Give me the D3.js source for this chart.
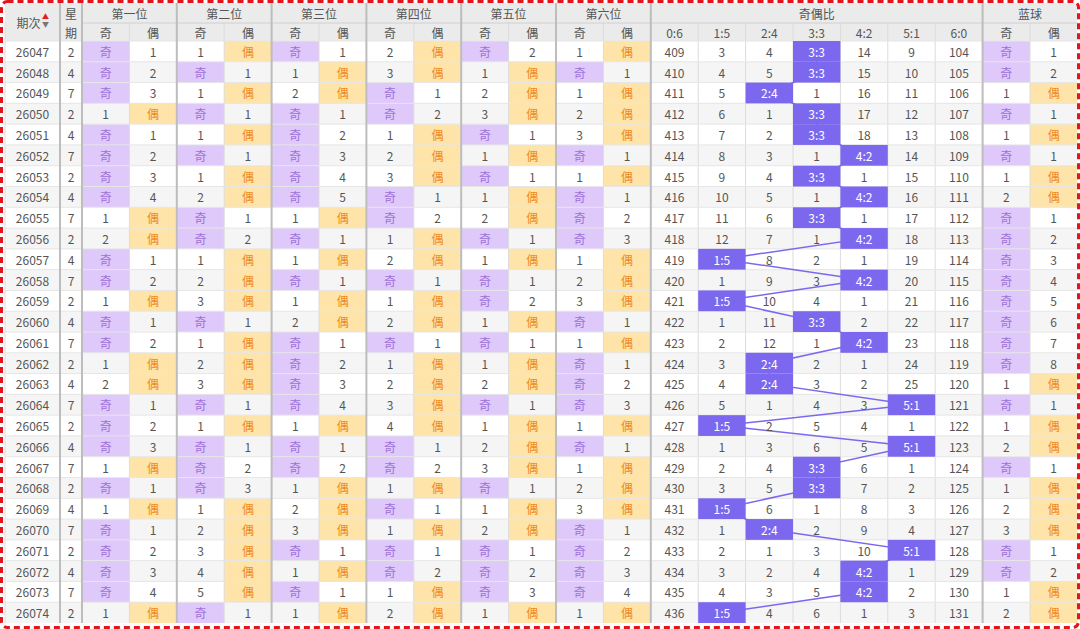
<!DOCTYPE html>
<html><head><meta charset="utf-8">
<script src="https://cdn.jsdelivr.net/npm/d3@7"></script>
<style>body{margin:0;background:#fff}svg{display:block;font-family:"Noto Sans CJK SC","DejaVu Sans",sans-serif}</style>
</head><body><svg id="chart" width="1080" height="629"></svg>
<script>
// data
var issues = d3.range(26047, 26075);
var weekdays = [2,4,7,2,4,7,2,4,7,2,4,7,2,4,7,2,4,7,2,4,7,2,4,7,2,4,7,2];
var posNames = ['第一位','第二位','第三位','第四位','第五位','第六位'];
// O = odd hit, E = even hit; nums = the miss count shown in the other cell
var posFlags = [
  "OOOEOOOOEEOOEOOEEOOOEOEOOOOE",
  "EOEOEOEEOOEEEOEEEOEOOOEEEEEO",
  "OEEOOOOOEOEOEEOOOOEOOEEEOEOE",
  "EEOOEEEOOEEOEEOEEEEOOEOEOOEE",
  "OEEEOEOEEOEOOEOEEOEEEOEEOOOE",
  "EOEEEOEOOOEEEOEOOOEOEEEOOOOE"
];
var posNums = [
  [1,2,3,1,1,2,3,4,1,2,1,2,1,1,2,1,2,1,2,3,1,1,1,1,2,3,4,1],
  [1,1,1,1,1,1,1,2,1,2,1,2,3,1,1,2,3,1,1,1,2,3,1,2,3,4,5,1],
  [1,1,2,1,2,3,4,5,1,1,1,1,1,2,1,2,3,4,1,1,2,1,2,3,1,1,1,1],
  [2,3,1,2,1,2,3,1,2,1,2,1,1,2,1,1,2,3,4,1,2,1,1,1,1,2,1,2],
  [2,1,2,3,1,1,1,1,2,1,1,1,2,1,1,1,2,1,1,2,3,1,1,2,1,2,3,1],
  [1,1,1,2,3,1,1,1,2,3,1,2,3,1,1,1,2,3,1,1,1,2,3,1,2,3,4,1]
];
var ratioLabels = ['0:6','1:5','2:4','3:3','4:2','5:1','6:0'];
var ratioHit = [3,3,2,3,3,4,3,4,3,4,1,4,1,3,4,2,2,5,1,5,3,3,1,2,5,4,4,1];
var ratioMiss = [
  [409,3,4,0,14,9,104],[410,4,5,0,15,10,105],[411,5,0,1,16,11,106],[412,6,1,0,17,12,107],
  [413,7,2,0,18,13,108],[414,8,3,1,0,14,109],[415,9,4,0,1,15,110],[416,10,5,1,0,16,111],
  [417,11,6,0,1,17,112],[418,12,7,1,0,18,113],[419,0,8,2,1,19,114],[420,1,9,3,0,20,115],
  [421,0,10,4,1,21,116],[422,1,11,0,2,22,117],[423,2,12,1,0,23,118],[424,3,0,2,1,24,119],
  [425,4,0,3,2,25,120],[426,5,1,4,3,0,121],[427,0,2,5,4,1,122],[428,1,3,6,5,0,123],
  [429,2,4,0,6,1,124],[430,3,5,0,7,2,125],[431,0,6,1,8,3,126],[432,1,0,2,9,4,127],
  [433,2,1,3,10,0,128],[434,3,2,4,0,1,129],[435,4,3,5,0,2,130],[436,0,4,6,1,3,131]
];
var blueFlags = "OOEOEOEEOOOOOOOOEOEEOEEEOOEE";
var blueNums = [1,2,1,1,1,1,1,2,1,2,3,4,5,6,7,8,1,1,1,2,1,1,2,3,1,2,1,2];

var svg = d3.select('#chart');
var purpleBg = '#dfc8fa', purpleTx = '#9d72d8', orangeBg = '#fee4a8', orangeTx = '#f08a24';
var blue = '#7b68ee', grid = '#dcdcdc', txt = '#555';

// columns: id, week, 12 position cols, 7 ratio cols, 2 blue cols
var colKeys = ['id','wk'];
posNames.forEach(function(p,i){ colKeys.push('p'+i+'o','p'+i+'e'); });
ratioLabels.forEach(function(r,i){ colKeys.push('r'+i); });
colKeys.push('bo','be');
var colW = {id:55, wk:22};
var x0 = 5, cw = 47.4;
var xs = {}, cx = x0;
colKeys.forEach(function(k){ var w = colW[k] || cw; xs[k] = {x:cx, w:w}; cx += w; });

var headTop = 3, head1 = 20, head2 = 18;
var y = d3.scaleBand().domain(issues).range([headTop+head1+head2, 623]);
var rh = y.bandwidth();

// row backgrounds
svg.selectAll('rect.row').data(issues).join('rect')
  .attr('x', x0).attr('y', function(d){ return y(d); })
  .attr('width', cx-x0).attr('height', rh)
  .attr('fill', function(d,i){ return i%2 ? '#f5f5f5' : '#fff'; });

// header bg
svg.append('rect').attr('x',x0).attr('y',headTop).attr('width',cx-x0).attr('height',head1+head2).attr('fill','#ebebeb');

function cell(key, i, bg){
  svg.append('rect').attr('x',xs[key].x).attr('y',y(issues[i])).attr('width',xs[key].w).attr('height',rh).attr('fill',bg);
}
function text(key, yy, s, col, sz){
  svg.append('text').attr('x',xs[key].x+xs[key].w/2).attr('y',yy).attr('text-anchor','middle')
    .attr('dominant-baseline','central').attr('font-size',sz||12).attr('fill',col||txt).text(s);
}

// coloured cells first
function oddEven(flags, nums, ko, ke){
  issues.forEach(function(d,i){
    if (flags[i]==='O') cell(ko,i,purpleBg); else cell(ke,i,orangeBg);
  });
}
posFlags.forEach(function(f,p){ oddEven(f, posNums[p], 'p'+p+'o', 'p'+p+'e'); });
oddEven(blueFlags, blueNums, 'bo', 'be');

// grid lines
colKeys.forEach(function(k){
  svg.append('line').attr('x1',xs[k].x).attr('x2',xs[k].x).attr('y1',headTop+head1).attr('y2',623).attr('stroke',grid);
});
issues.forEach(function(d){
  svg.append('line').attr('x1',x0).attr('x2',cx).attr('y1',y(d)).attr('y2',y(d)).attr('stroke','#e6e6e6');
});
svg.append('line').attr('x1',xs.p0o.x).attr('x2',cx).attr('y1',headTop+head1).attr('y2',headTop+head1).attr('stroke','#d0d0d0');
// group separators
['wk','p0o','p1o','p2o','p3o','p4o','p5o','r0','bo'].forEach(function(k){
  svg.append('line').attr('x1',xs[k].x).attr('x2',xs[k].x).attr('y1',headTop).attr('y2',623).attr('stroke','#bdbdbd').attr('stroke-width',2);
});

// ratio connector line and hit boxes
var pts = ratioHit.map(function(h,i){ var c = xs['r'+h]; return [c.x+c.w/2, y(issues[i])+rh/2]; });
svg.append('path').attr('d', d3.line()(pts)).attr('fill','none').attr('stroke',blue).attr('stroke-width',1.5);
ratioHit.forEach(function(h,i){ cell('r'+h, i, blue); });

// header text
var h1y = headTop+head1/2, h2y = headTop+head1+head2/2;
svg.append('text').attr('x',xs.id.x+xs.id.w/2-4).attr('y',headTop+(head1+head2)/2).attr('text-anchor','middle')
  .attr('dominant-baseline','central').attr('font-size',12).attr('fill',txt).text('期次');
svg.append('text').attr('x',xs.id.x+xs.id.w/2+13).attr('y',headTop+(head1+head2)/2-3).attr('text-anchor','middle')
  .attr('font-size',7).attr('fill','#e02020').text('▲');
svg.append('text').attr('x',xs.id.x+xs.id.w/2+13).attr('y',headTop+(head1+head2)/2+5).attr('text-anchor','middle')
  .attr('font-size',7).attr('fill','#777').text('▼');
text('wk', h1y, '星'); text('wk', h2y, '期');
function groupTitle(k1, k2, s){
  svg.append('text').attr('x',(xs[k1].x+xs[k2].x+xs[k2].w)/2).attr('y',h1y).attr('text-anchor','middle')
    .attr('dominant-baseline','central').attr('font-size',12).attr('fill',txt).text(s);
}
posNames.forEach(function(n,p){ groupTitle('p'+p+'o','p'+p+'e',n); text('p'+p+'o',h2y,'奇'); text('p'+p+'e',h2y,'偶'); });
groupTitle('r0','r6','奇偶比');
ratioLabels.forEach(function(r,i){ text('r'+i,h2y,r); });
groupTitle('bo','be','蓝球'); text('bo',h2y,'奇'); text('be',h2y,'偶');

// body text
issues.forEach(function(d,i){
  var yy = y(d)+rh/2;
  text('id', yy, d); text('wk', yy, weekdays[i]);
  function oe(flag, n, ko, ke){
    if (flag==='O'){ text(ko,yy,'奇',purpleTx); text(ke,yy,n); }
    else { text(ko,yy,n); text(ke,yy,'偶',orangeTx); }
  }
  posFlags.forEach(function(f,p){ oe(f[i], posNums[p][i], 'p'+p+'o', 'p'+p+'e'); });
  oe(blueFlags[i], blueNums[i], 'bo', 'be');
  ratioMiss[i].forEach(function(v,j){
    if (j===ratioHit[i]) text('r'+j, yy, ratioLabels[j], '#fff');
    else text('r'+j, yy, v);
  });
});

// red dashed frame
svg.append('rect').attr('x',1.5).attr('y',1.5).attr('width',1077).attr('height',626).attr('rx',6)
  .attr('fill','none').attr('stroke','#e3151a').attr('stroke-width',3).attr('stroke-dasharray','6,4');
</script></body></html>
